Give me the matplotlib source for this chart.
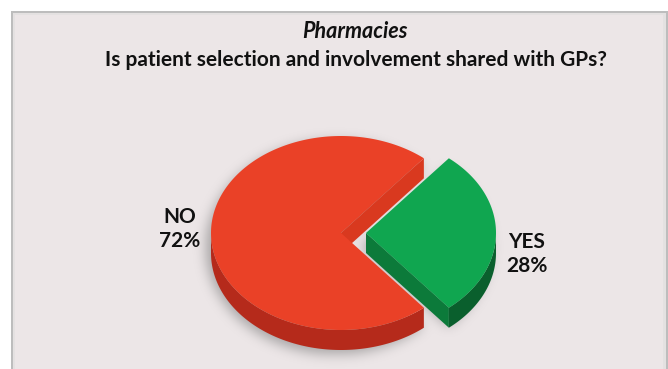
import numpy as np
import matplotlib
matplotlib.use("Agg")
import matplotlib.pyplot as plt
from matplotlib.patches import Polygon, Rectangle

# Survey answers
categories = ["NO", "YES"]
values = [72, 28]
top_colors = ["#ea4127", "#10a650"]
side_colors = ["#b52a1b", "#0a5f2d"]
cut_colors = ["#d9391f", "#0c7a3a"]

title_line1 = "Pharmacies"
title_line2 = "Is patient selection and involvement shared with GPs?"

W, H = 668, 369
fig = plt.figure(figsize=(W / 100, H / 100), dpi=100)
ax = fig.add_axes([0, 0, 1, 1])
ax.set_xlim(0, W)
ax.set_ylim(H, 0)
ax.axis("off")
fig.patch.set_facecolor("white")

# panel with a soft bevelled border
ax.add_patch(Rectangle((10.5, 10.5), 657, 362, facecolor="#bdbdbd", edgecolor="none", zorder=0))
ax.add_patch(Rectangle((12.5, 12.5), 653, 360, facecolor="#e4e1e1", edgecolor="none", zorder=0))
ax.add_patch(Rectangle((15, 14.5), 648, 360, facecolor="#ece6e7", edgecolor="none", zorder=0))

font = ["Lato", "DejaVu Sans"]
ax.text(355, 31, title_line1, ha="center", va="center", fontsize=15.5,
        fontweight="bold", fontstyle="italic", family=font, color="#111111")
ax.text(356, 60, title_line2, ha="center", va="center", fontsize=15,
        fontweight="bold", family=font, color="#111111")

# pie geometry (screen pixels)
cx, cy = 341.0, 233.0
rx, ry = 130.0, 97.0
depth = 20.0
explode = [0.0, 25.0]

fracs = np.array(values, dtype=float) / np.sum(values)
spans = fracs * 360.0
# YES slice centred on the right-hand side, NO takes the rest
yes_start = -spans[1] / 2
starts = [yes_start + spans[1], yes_start]


def pt(x0, y0, t, dz=0.0):
    r = np.deg2rad(t)
    return x0 + rx * np.cos(r), y0 - ry * np.sin(r) + dz


# soft drop shadow from a blurred footprint
yy, xx = np.mgrid[0:H, 0:W]
mask = np.zeros((H, W))
for i in range(len(values)):
    mid = np.deg2rad(starts[i] + spans[i] / 2)
    ox = cx + explode[i] * np.cos(mid) - 6
    oy = cy - explode[i] * np.sin(mid) * ry / rx + depth / 2 + 4
    ang = np.rad2deg(np.arctan2(-(yy - oy) / ry, (xx - ox) / rx)) % 360
    inside = ((xx - ox) / rx) ** 2 + ((yy - oy) / (ry + depth / 2)) ** 2 <= 1
    rel = (ang - starts[i]) % 360
    mask[inside & (rel <= spans[i])] = 1.0
k = np.exp(-0.5 * (np.arange(-15, 16) / 6.0) ** 2)
k /= k.sum()
blur = np.apply_along_axis(lambda r: np.convolve(r, k, mode="same"), 1, mask)
blur = np.apply_along_axis(lambda c: np.convolve(c, k, mode="same"), 0, blur)
rgba = np.zeros((H, W, 4))
rgba[..., :3] = 0.45
rgba[..., 3] = blur * 0.55
ax.imshow(rgba, extent=(0, W, H, 0), zorder=1, interpolation="bilinear")

for i in range(len(values)):
    mid = np.deg2rad(starts[i] + spans[i] / 2)
    x0 = cx + explode[i] * np.cos(mid)
    y0 = cy - explode[i] * np.sin(mid) * ry / rx
    a0, a1 = starts[i], starts[i] + spans[i]

    # visible cut faces
    for a, sgn in ((a0, -1), (a1, 1)):
        normal = np.deg2rad(a + sgn * 90)
        if np.sin(normal) < 0:
            px, py = pt(x0, y0, a)
            face = [(x0, y0), (px, py), (px, py + depth), (x0, y0 + depth)]
            ax.add_patch(Polygon(face, closed=True, facecolor=cut_colors[i],
                                 edgecolor="none", zorder=2))

    # front wall of the outer rim
    ts = np.linspace(a0, a1, 400)
    ts = ts[(ts % 360) >= 180]
    if len(ts) > 1:
        top = [pt(x0, y0, t) for t in ts]
        bot = [pt(x0, y0, t, depth) for t in ts[::-1]]
        ax.add_patch(Polygon(top + bot, closed=True, facecolor=side_colors[i],
                             edgecolor="none", zorder=3))

    # top face
    ts = np.linspace(a0, a1, 400)
    face = [(x0, y0)] + [pt(x0, y0, t) for t in ts]
    ax.add_patch(Polygon(face, closed=True, facecolor=top_colors[i],
                         edgecolor="none", zorder=4))

# slice labels
label_pos = [(180, 229), (527, 254)]
for i, (lx, ly) in enumerate(label_pos):
    ax.text(lx, ly, f"{categories[i]}\n{values[i]}%", ha="center", va="center",
            fontsize=15, fontweight="bold", family=font, color="#111111",
            linespacing=1.2)

fig.savefig("out.png", dpi=100, facecolor="white")
